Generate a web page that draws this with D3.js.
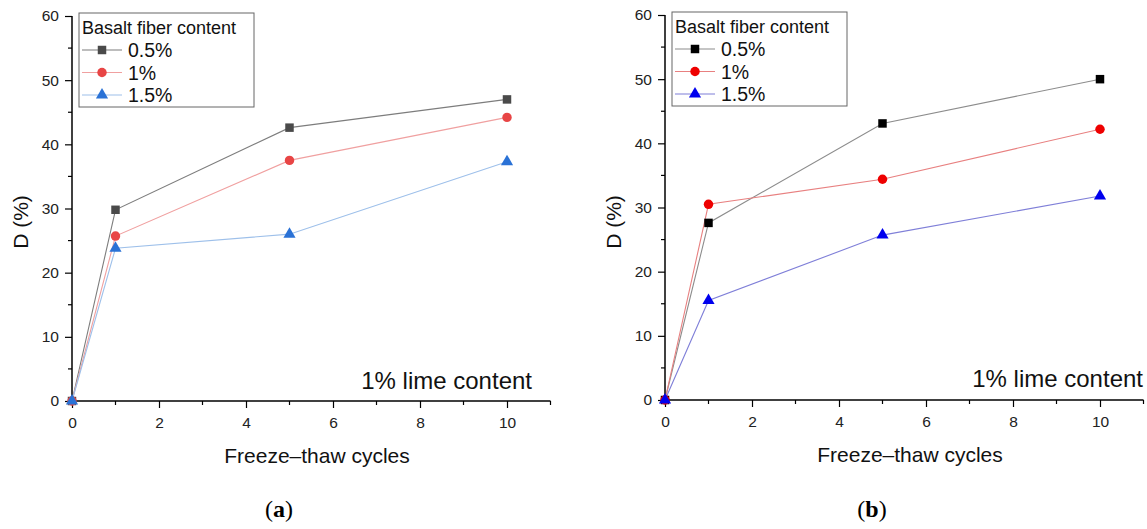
<!DOCTYPE html>
<html>
<head>
<meta charset="utf-8">
<script src="https://cdn.jsdelivr.net/npm/d3@7/dist/d3.min.js"></script>
<style>
  html, body { margin: 0; padding: 0; background: #fff; }
  svg { display: block; font-family: "Liberation Sans", Arial, sans-serif; }
</style>
</head>
<body>
<svg id="fig" width="1147" height="529"></svg>
<script>
// Freeze–thaw cycles sampled
const cycles = [0, 1, 5, 10];
const seriesNames = ["0.5%", "1%", "1.5%"];

// Panel (a): D (%) per basalt fiber content
const panelA_05 = [0, 29.8, 42.6, 47.0];
const panelA_10 = [0, 25.7, 37.5, 44.2];
const panelA_15 = [0, 23.8, 26.0, 37.3];

// Panel (b): D (%) per basalt fiber content
const panelB_05 = [0, 27.6, 43.1, 50.0];
const panelB_10 = [0, 30.5, 34.4, 42.2];
const panelB_15 = [0, 15.5, 25.7, 31.8];

const yTicks = [0, 10, 20, 30, 40, 50, 60];
const xTicks = [0, 2, 4, 6, 8, 10];

const svg = d3.select("#fig");

const panels = [
  {
    left: 72, right: 550.5, top: 16, bottom: 401,
    tag: "a", titleX: 317, tagX: 279, noteX: 532, noteY: 389,
    legend: { x: 79, y: 13, w: 175, h: 94 },
    data: [panelA_05, panelA_10, panelA_15],
    marker: ["#4a4a4a", "#e84545", "#2a72d6"],
    line: ["#7d7d7d", "#f0a0a0", "#9ec0ea"]
  },
  {
    left: 665, right: 1143.5, top: 15, bottom: 400,
    tag: "b", titleX: 910, tagX: 872, noteX: 1143, noteY: 387,
    legend: { x: 672, y: 12, w: 175, h: 94 },
    data: [panelB_05, panelB_10, panelB_15],
    marker: ["#000000", "#ee0000", "#0000ee"],
    line: ["#8c8c8c", "#e88080", "#7f7fd8"]
  }
];

const shapes = [d3.symbolSquare, d3.symbolCircle, d3.symbolTriangle];
const sizes = [72, 70, 64];

panels.forEach(p => {
  const g = svg.append("g");
  const x = d3.scaleLinear().domain([0, 11]).range([p.left, p.right]);
  const y = d3.scaleLinear().domain([0, 60]).range([p.bottom, p.top]);

  // minor ticks
  const xMinor = d3.range(1, 12, 2);
  const yMinor = d3.range(5, 60, 10);
  g.selectAll(".xm").data(xMinor).join("line")
    .attr("x1", d => x(d)).attr("x2", d => x(d))
    .attr("y1", p.bottom).attr("y2", p.bottom + 4)
    .attr("stroke", "#000").attr("stroke-width", 1.2);
  g.selectAll(".ym").data(yMinor).join("line")
    .attr("x1", p.left - 4).attr("x2", p.left)
    .attr("y1", d => y(d)).attr("y2", d => y(d))
    .attr("stroke", "#000").attr("stroke-width", 1.2);

  // axes
  const xAxis = d3.axisBottom(x).tickValues(xTicks).tickSize(7).tickPadding(9).tickFormat(d3.format("d"));
  const yAxis = d3.axisLeft(y).tickValues(yTicks).tickSize(7).tickPadding(6).tickFormat(d3.format("d"));
  const gx = g.append("g").attr("transform", `translate(0,${p.bottom})`).call(xAxis);
  const gy = g.append("g").attr("transform", `translate(${p.left},0)`).call(yAxis);
  gx.select(".domain").attr("d", `M${p.left},0H${p.right}`);
  gy.select(".domain").attr("d", `M0,${p.bottom}V${p.top}`);
  [gx, gy].forEach(a => {
    a.select(".domain").attr("stroke", "#000").attr("stroke-width", 1.5);
    a.selectAll(".tick line").attr("stroke", "#000").attr("stroke-width", 1.2);
    a.selectAll(".tick text").attr("fill", "#222").style("font-size", "15.5px")
      .style("font-family", "'Liberation Sans', Arial, sans-serif");
  });

  // series lines
  p.data.forEach((vals, i) => {
    const pts = cycles.map((c, k) => [c, vals[k]]);
    g.append("path").datum(pts)
      .attr("fill", "none").attr("stroke", p.line[i]).attr("stroke-width", 1.1)
      .attr("d", d3.line().x(d => x(d[0])).y(d => y(d[1])));
  });
  // series markers
  p.data.forEach((vals, i) => {
    const pts = cycles.map((c, k) => [c, vals[k]]);
    g.selectAll(null).data(pts).join("path")
      .attr("transform", d => `translate(${x(d[0])},${y(d[1])})`)
      .attr("d", d3.symbol().type(shapes[i]).size(sizes[i]))
      .attr("fill", p.marker[i]);
  });

  // legend
  const L = p.legend;
  const lg = g.append("g");
  lg.append("rect").attr("x", L.x).attr("y", L.y).attr("width", L.w).attr("height", L.h)
    .attr("fill", "#fff").attr("stroke", "#666").attr("stroke-width", 1);
  lg.append("text").attr("x", L.x + 3).attr("y", L.y + 21)
    .style("font-size", "18px").attr("fill", "#111").text("Basalt fiber content");
  seriesNames.forEach((name, i) => {
    const cy = L.y + 37 + i * 22.5;
    lg.append("line").attr("x1", L.x + 3).attr("x2", L.x + 43)
      .attr("y1", cy).attr("y2", cy).attr("stroke", p.line[i]).attr("stroke-width", 1.1);
    lg.append("path").attr("transform", `translate(${L.x + 23},${cy})`)
      .attr("d", d3.symbol().type(shapes[i]).size(sizes[i])).attr("fill", p.marker[i]);
    lg.append("text").attr("x", L.x + 49).attr("y", cy + 7)
      .style("font-size", "19.5px").attr("fill", "#111").text(name);
  });

  // annotation
  g.append("text").attr("x", p.noteX).attr("y", p.noteY)
    .attr("text-anchor", "end").style("font-size", "24px").attr("fill", "#111")
    .text("1% lime content");

  // axis titles
  g.append("text").attr("x", p.titleX).attr("y", p.bottom + 62)
    .attr("text-anchor", "middle").style("font-size", "21px").attr("fill", "#111")
    .text("Freeze–thaw cycles");
  g.append("text")
    .attr("transform", `translate(${p.left - 44},${222}) rotate(-90)`)
    .attr("text-anchor", "middle").style("font-size", "21px").attr("fill", "#111")
    .text("D (%)");

  // panel tag
  const tag = g.append("text").attr("x", p.tagX).attr("y", 517)
    .attr("text-anchor", "middle").style("font-size", "24px")
    .style("font-family", "'Liberation Serif', 'DejaVu Serif', serif").attr("fill", "#000");
  tag.append("tspan").text("(");
  tag.append("tspan").style("font-weight", "bold").text(p.tag);
  tag.append("tspan").text(")");
});
</script>
</body>
</html>
